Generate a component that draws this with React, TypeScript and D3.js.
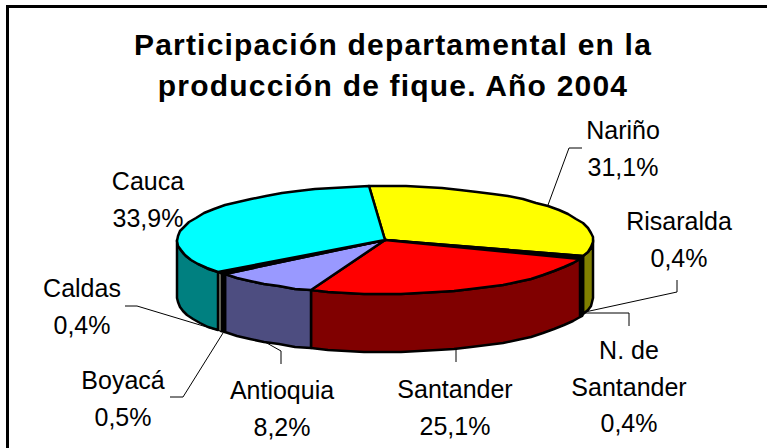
import React from "react";
import * as d3 from "d3";

const W = 767, H = 448;
const names = ["Nariño", "Risaralda", "N. de Santander", "Santander", "Antioquia", "Boyacá", "Caldas", "Cauca"];
const shares = [31.1, 0.4, 0.4, 25.1, 8.2, 0.5, 0.4, 33.9];
const topColors = ["#FFFF00", "#000000", "#000000", "#FF0000", "#9999FF", "#000000", "#C0C0C0", "#00FFFF"];
const wallColors = ["#808000", "#000000", "#000000", "#800000", "#4D4D80", "#000000", "#808070", "#008080"];
const titleLines = ["Participación departamental en la", "producción de fique. Año 2004"];

const labelTexts: { lines: string[]; x: number; y: number }[] = [
  { lines: ["Nariño", "31,1%"], x: 623, y: 139 },
  { lines: ["Risaralda", "0,4%"], x: 679, y: 230 },
  { lines: ["N. de", "Santander", "0,4%"], x: 629, y: 359 },
  { lines: ["Santander", "25,1%"], x: 455, y: 398 },
  { lines: ["Antioquia", "8,2%"], x: 282, y: 399 },
  { lines: ["Boyacá", "0,5%"], x: 123, y: 389 },
  { lines: ["Caldas", "0,4%"], x: 82, y: 297 },
  { lines: ["Cauca", "33,9%"], x: 148, y: 190 },
];
const leaders: [number, number][][] = [
  [[548, 205], [569, 148], [582, 148]],
  [[585, 312], [677, 292], [677, 280]],
  [[585, 313], [629, 313], [629, 326]],
  [[456, 350], [456, 362]],
  [[265, 342], [281, 351], [281, 364]],
  [[223, 333], [183, 397], [170, 397]],
  [[220, 331], [137, 306], [125, 306]],
];

const cx = 385, cy = 240, rx = 208, ry = 54, depth = 58;
const pieGen = d3.pie<number>().sort(null).startAngle((-4.4 * Math.PI) / 180).endAngle(((360 - 4.4) * Math.PI) / 180);
const arcsData = pieGen(shares);

const pt = (a: number, dy = 0): [number, number] => [cx + rx * Math.sin(a), cy - ry * Math.cos(a) + dy];
const line = d3.line();
const samples = (a0: number, a1: number, dy = 0) => {
  const n = Math.max(1, Math.ceil((a1 - a0) / 0.09));
  return d3.range(n + 1).map((i) => {
    const p = pt(a0 + ((a1 - a0) * i) / n, dy);
    return [Math.round(p[0]), Math.round(p[1])] as [number, number];
  });
};

export default function App() {
  const slices = arcsData.map((d, i) => ({ ...d, i }));
  return (
    <svg width={W} height={H} style={{ position: "absolute", left: 0, top: 0, background: "#fff" }}>
      <path d={`M7.5,${H}V6.5H${W}`} fill="none" stroke="#000" strokeWidth={3} />
      <g fontFamily="Liberation Sans, Arial, sans-serif" fontWeight={700} fontSize={30} textAnchor="middle" letterSpacing={1.2}>
        {titleLines.map((t, i) => (
          <text key={i} x={393} y={55 + i * 41}>{t}</text>
        ))}
      </g>
      {slices.map((d) => {
        const a0 = Math.max(d.startAngle, Math.PI / 2);
        const a1 = Math.min(d.endAngle, (3 * Math.PI) / 2);
        if (a1 <= a0) return null;
        const pts = [...samples(a0, a1), ...samples(a0, a1, depth).reverse()];
        return <path key={d.i} d={line(pts) + "Z"} fill={wallColors[d.i]} stroke="#000" strokeWidth={d.i === 6 ? 0.5 : 2.5} strokeLinejoin="round" />;
      })}
      {slices.map((d) => {
        const pts: [number, number][] = [[cx, cy], ...samples(d.startAngle, d.endAngle)];
        return <path key={d.i} d={line(pts) + "Z"} fill={topColors[d.i]} stroke="#000" strokeWidth={2.5} strokeLinejoin="round" />;
      })}
      <g fill="none" stroke="#000" strokeWidth={1}>
        {leaders.map((l, i) => <path key={i} d={line(l) ?? ""} />)}
      </g>
      <g fontFamily="Liberation Sans, Arial, sans-serif" fontSize={25} textAnchor="middle" fill="#000">
        {labelTexts.map((l, i) => (
          <text key={names[i]} x={l.x}>
            {l.lines.map((s, j) => <tspan key={j} x={l.x} y={l.y + j * 36.5}>{s}</tspan>)}
          </text>
        ))}
      </g>
    </svg>
  );
}
